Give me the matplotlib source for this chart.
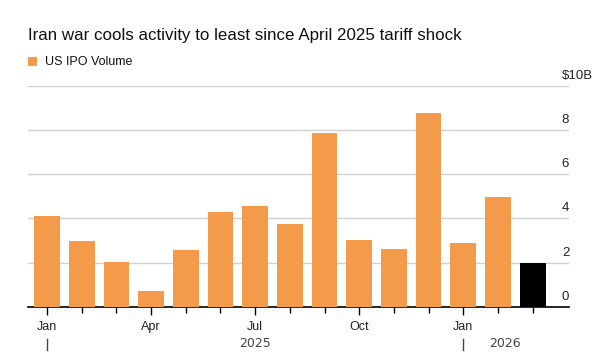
import matplotlib.pyplot as plt
from matplotlib.patches import Rectangle

plt.rcParams["font.family"] = ["Liberation Sans", "DejaVu Sans"]

months = ["Jan", "Feb", "Mar", "Apr", "May", "Jun", "Jul", "Aug", "Sep",
          "Oct", "Nov", "Dec", "Jan", "Feb", "Mar"]
ipo_volume = [4.12, 2.96, 2.01, 0.70, 2.58, 4.28, 4.56, 3.73, 7.85,
              3.02, 2.60, 8.78, 2.87, 4.98, 2.00]
labeled_months = {0: "Jan", 3: "Apr", 6: "Jul", 9: "Oct", 12: "Jan"}
years = [("2025", 6.0), ("2026", 13.2)]
year_starts = [0, 12]
y_ticks = [0, 2, 4, 6, 8, 10]
y_labels = ["0", "2", "4", "6", "8", "$10B"]

orange = "#F39B4B"
colors = [orange] * (len(months) - 1) + ["black"]

fig = plt.figure(figsize=(6, 3.63), dpi=100)
ax = fig.add_axes([0.046, 0.155, 0.902, 0.609])

x = list(range(len(months)))
ax.bar(x, ipo_volume, width=0.74, color=colors, zorder=3)

ax.set_xlim(-0.56, 15.04)
ax.set_ylim(0, 10)

for v in y_ticks[1:]:
    ax.axhline(v, color="#d0d0d0", linewidth=1.0, zorder=1)
for v, lab in zip(y_ticks, y_labels):
    ax.text(14.84, v + 0.45, lab, fontsize=9.5, ha="left", va="center",
            color="#222222")

for s in ["top", "right", "left"]:
    ax.spines[s].set_visible(False)
ax.spines["bottom"].set_color("black")
ax.spines["bottom"].set_linewidth(1.2)
ax.set_yticks([])

ax.set_xticks([i for i in x if i not in labeled_months], minor=True)
ax.set_xticks(list(labeled_months.keys()))
ax.set_xticklabels(list(labeled_months.values()), fontsize=9, color="#222222")
ax.tick_params(axis="x", which="major", length=6, width=1, pad=4)
ax.tick_params(axis="x", which="minor", length=4, width=1)

for name, pos in years:
    ax.text(pos, -1.65, name, fontsize=9, ha="center", va="center",
            color="#444444", family=["DejaVu Sans"])
for pos in year_starts:
    ax.plot([pos, pos], [-1.45, -1.95], color="#444444", linewidth=1,
            clip_on=False)

fig.text(0.046, 0.903, "Iran war cools activity to least since April 2025 tariff shock",
         fontsize=12.2, ha="left", va="center", color="#111111")
fig.patches.append(Rectangle((0.047, 0.818), 0.015, 0.025, transform=fig.transFigure,
                             facecolor=orange, edgecolor="none"))
fig.text(0.075, 0.83, "US IPO Volume", fontsize=9, ha="left", va="center",
         color="#111111")

fig.savefig("out.png", dpi=100, facecolor="white")
